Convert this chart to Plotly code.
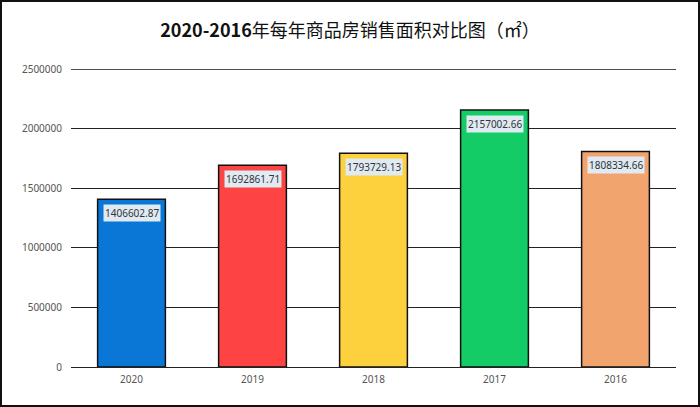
import plotly.graph_objects as go

years = ["2020", "2019", "2018", "2017", "2016"]
areas = [1406602.87, 1692861.71, 1793729.13, 2157002.66, 1808334.66]
label_texts = ["1406602.87", "1692861.71", "1793729.13", "2157002.66", "1808334.66"]
colors = ["#0a76d6", "#fe4343", "#fdd13d", "#14cc66", "#f2a46e"]
tick_vals = [0, 500000, 1000000, 1500000, 2000000, 2500000]
tick_text = ["0", "500000", "1000000", "1500000", "2000000", "2500000"]

W, H = 700, 407
ml, mr, mt, mb = 71, 24, 69, 40
pw, ph = W - ml - mr, H - mt - mb

fig = go.Figure()
fig.add_trace(go.Bar(
    x=years, y=areas,
    marker=dict(color=colors, line=dict(color="#111111", width=1.5)),
    hoverinfo="x+y",
))

for i, (y, t) in enumerate(zip(areas, label_texts)):
    fig.add_annotation(
        x=i, y=y, text=t, showarrow=False,
        yanchor="top", yshift=-5,
        font=dict(family="Noto Sans, Open Sans, sans-serif", size=10, color="#333333"),
        bgcolor="#e0eaf3", borderpad=1,
    )

# top gridline at the last tick (plotly omits gridlines on the range edge)
fig.add_shape(type="line", xref="paper", yref="y", x0=0, x1=1,
              y0=tick_vals[-1], y1=tick_vals[-1],
              line=dict(color="#111111", width=1.3), layer="below")

fig.add_shape(type="rect", xref="paper", yref="paper",
              x0=-ml / pw + 1 / pw, x1=1 + mr / pw - 1 / pw,
              y0=-mb / ph + 1 / ph, y1=1 + mt / ph - 1 / ph,
              line=dict(color="#111111", width=2), layer="above")

fig.update_layout(
    width=W, height=H,
    margin=dict(l=ml, r=mr, t=mt, b=mb, autoexpand=False),
    paper_bgcolor="white", plot_bgcolor="white",
    title=dict(
        text="<b>2020-2016</b>年每年商品房销售面积对比图（㎡）",
        x=0.5, xref="container", xanchor="center",
        y=1 - 31 / H, yanchor="middle",
        font=dict(family="Noto Sans CJK SC, sans-serif", size=18, color="#111111"),
    ),
    showlegend=False,
    bargap=0.44,
    xaxis=dict(
        type="category", categoryorder="array", categoryarray=years,
        range=[-0.5, 4.5], showgrid=False, zeroline=False, showline=False,
        ticks="", tickfont=dict(family="Noto Sans, sans-serif", size=10, color="#555555"),
        ticklabelstandoff=5,
    ),
    yaxis=dict(
        range=[0, 2500000], tickvals=tick_vals, ticktext=tick_text,
        showgrid=True, gridcolor="#222222", gridwidth=1,
        zeroline=True, zerolinecolor="#222222", zerolinewidth=1,
        showline=False, ticks="",
        tickfont=dict(family="Noto Sans, sans-serif", size=10, color="#555555"),
        ticklabelstandoff=8,
    ),
)

fig.write_html("out.html", config={"displayModeBar": False},
               post_script="document.body.style.margin='0';")
